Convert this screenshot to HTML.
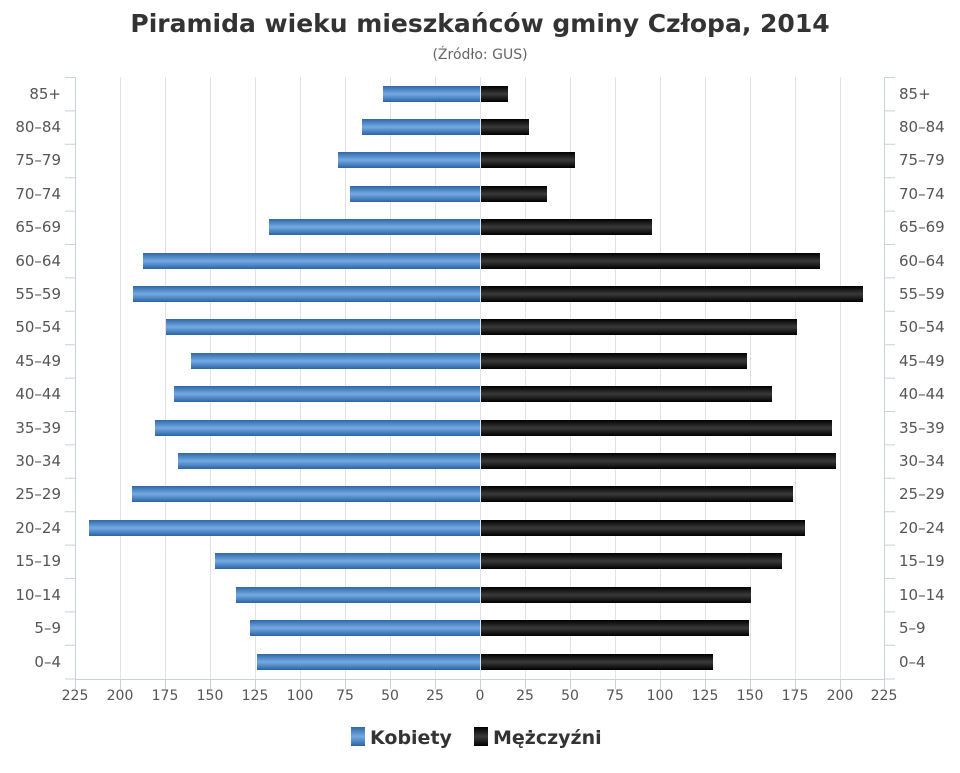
<!DOCTYPE html>
<html><head><meta charset="utf-8"><style>
body{margin:0;background:#fff;width:960px;height:768px;overflow:hidden}
svg text{font-family:"DejaVu Sans","Liberation Sans",sans-serif;fill:#555}
</style></head><body>
<svg width="960" height="768" xmlns="http://www.w3.org/2000/svg">
<defs>
<linearGradient id="b" x1="0" y1="0" x2="0" y2="1"><stop offset="0" stop-color="#2f67a8"/><stop offset="0.5" stop-color="#74aae3"/><stop offset="1" stop-color="#2c64a4"/></linearGradient>
<linearGradient id="k" x1="0" y1="0" x2="0" y2="1"><stop offset="0" stop-color="#000"/><stop offset="0.5" stop-color="#3a3a3a"/><stop offset="1" stop-color="#000"/></linearGradient>
</defs>
<text x="480" y="32" text-anchor="middle" font-size="25" font-weight="bold" style="fill:#333">Piramida wieku mieszkańców gminy Człopa, 2014</text>
<text x="480" y="59" text-anchor="middle" font-size="14" style="fill:#666">(Źródło: GUS)</text>
<g stroke="#e2e2e2" stroke-width="1">
<line x1="120.5" y1="77" x2="120.5" y2="679"/><line x1="165.5" y1="77" x2="165.5" y2="679"/><line x1="210.5" y1="77" x2="210.5" y2="679"/><line x1="255.5" y1="77" x2="255.5" y2="679"/><line x1="300.5" y1="77" x2="300.5" y2="679"/><line x1="345.5" y1="77" x2="345.5" y2="679"/><line x1="390.5" y1="77" x2="390.5" y2="679"/><line x1="435.5" y1="77" x2="435.5" y2="679"/><line x1="480.5" y1="77" x2="480.5" y2="679"/><line x1="525.5" y1="77" x2="525.5" y2="679"/><line x1="570.5" y1="77" x2="570.5" y2="679"/><line x1="615.5" y1="77" x2="615.5" y2="679"/><line x1="660.5" y1="77" x2="660.5" y2="679"/><line x1="705.5" y1="77" x2="705.5" y2="679"/><line x1="750.5" y1="77" x2="750.5" y2="679"/><line x1="795.5" y1="77" x2="795.5" y2="679"/><line x1="840.5" y1="77" x2="840.5" y2="679"/>
</g>
<g stroke="#c8d0dc" stroke-width="1">
<line x1="75.5" y1="77" x2="75.5" y2="679"/><line x1="884.5" y1="77" x2="884.5" y2="679"/>
<line x1="75" y1="679.5" x2="884" y2="679.5"/>
<path d="M65 77.5H75M65 110.9H75M65 144.3H75M65 177.7H75M65 211.1H75M65 244.5H75M65 277.9H75M65 311.3H75M65 344.7H75M65 378.1H75M65 411.5H75M65 444.9H75M65 478.3H75M65 511.7H75M65 545.1H75M65 578.5H75M65 611.9H75M65 645.3H75M65 679H75"/>
<path d="M885 77.5H895M885 110.9H895M885 144.3H895M885 177.7H895M885 211.1H895M885 244.5H895M885 277.9H895M885 311.3H895M885 344.7H895M885 378.1H895M885 411.5H895M885 444.9H895M885 478.3H895M885 511.7H895M885 545.1H895M885 578.5H895M885 611.9H895M885 645.3H895M885 679H895"/>
<path d="M75.5 679V689M120.5 679V689M165.5 679V689M210.5 679V689M255.5 679V689M300.5 679V689M345.5 679V689M390.5 679V689M435.5 679V689M480.5 679V689M525.5 679V689M570.5 679V689M615.5 679V689M660.5 679V689M705.5 679V689M750.5 679V689M795.5 679V689M840.5 679V689M884.5 679V689"/>
</g>
<g fill="url(#b)">
<rect x="383" y="86" width="97" height="16"/><rect x="362" y="119" width="118" height="16"/><rect x="338" y="152" width="142" height="16"/><rect x="350" y="186" width="130" height="16"/><rect x="269" y="219" width="211" height="16"/><rect x="143" y="253" width="337" height="16"/><rect x="133" y="286" width="347" height="16"/><rect x="166" y="319" width="314" height="16"/><rect x="191" y="353" width="289" height="16"/><rect x="174" y="386" width="306" height="16"/><rect x="155" y="420" width="325" height="16"/><rect x="178" y="453" width="302" height="16"/><rect x="132" y="486" width="348" height="16"/><rect x="89" y="520" width="391" height="16"/><rect x="215" y="553" width="265" height="16"/><rect x="236" y="587" width="244" height="16"/><rect x="250" y="620" width="230" height="16"/><rect x="257" y="654" width="223" height="16"/>
</g>
<g fill="url(#k)">
<rect x="481" y="86" width="27" height="16"/><rect x="481" y="119" width="48" height="16"/><rect x="481" y="152" width="94" height="16"/><rect x="481" y="186" width="66" height="16"/><rect x="481" y="219" width="171" height="16"/><rect x="481" y="253" width="339" height="16"/><rect x="481" y="286" width="382" height="16"/><rect x="481" y="319" width="316" height="16"/><rect x="481" y="353" width="266" height="16"/><rect x="481" y="386" width="291" height="16"/><rect x="481" y="420" width="351" height="16"/><rect x="481" y="453" width="355" height="16"/><rect x="481" y="486" width="312" height="16"/><rect x="481" y="520" width="324" height="16"/><rect x="481" y="553" width="301" height="16"/><rect x="481" y="587" width="270" height="16"/><rect x="481" y="620" width="268" height="16"/><rect x="481" y="654" width="232" height="16"/>
</g>
<g font-size="15" text-anchor="end">
<text x="61" y="99">85+</text><text x="61" y="132">80–84</text><text x="61" y="165">75–79</text><text x="61" y="199">70–74</text><text x="61" y="232">65–69</text><text x="61" y="266">60–64</text><text x="61" y="299">55–59</text><text x="61" y="332">50–54</text><text x="61" y="366">45–49</text><text x="61" y="399">40–44</text><text x="61" y="433">35–39</text><text x="61" y="466">30–34</text><text x="61" y="499">25–29</text><text x="61" y="533">20–24</text><text x="61" y="566">15–19</text><text x="61" y="600">10–14</text><text x="61" y="633">5–9</text><text x="61" y="667">0–4</text>
</g>
<g font-size="15" text-anchor="start">
<text x="899" y="99">85+</text><text x="899" y="132">80–84</text><text x="899" y="165">75–79</text><text x="899" y="199">70–74</text><text x="899" y="232">65–69</text><text x="899" y="266">60–64</text><text x="899" y="299">55–59</text><text x="899" y="332">50–54</text><text x="899" y="366">45–49</text><text x="899" y="399">40–44</text><text x="899" y="433">35–39</text><text x="899" y="466">30–34</text><text x="899" y="499">25–29</text><text x="899" y="533">20–24</text><text x="899" y="566">15–19</text><text x="899" y="600">10–14</text><text x="899" y="633">5–9</text><text x="899" y="667">0–4</text>
</g>
<g font-size="14" text-anchor="middle">
<text x="75" y="700">225</text><text x="120" y="700">200</text><text x="165" y="700">175</text><text x="210" y="700">150</text><text x="255" y="700">125</text><text x="300" y="700">100</text><text x="345" y="700">75</text><text x="390" y="700">50</text><text x="435" y="700">25</text><text x="480" y="700">0</text><text x="525" y="700">25</text><text x="570" y="700">50</text><text x="615" y="700">75</text><text x="660" y="700">100</text><text x="705" y="700">125</text><text x="750" y="700">150</text><text x="795" y="700">175</text><text x="840" y="700">200</text><text x="884" y="700">225</text>
</g>
<rect x="351" y="727" width="14" height="19" fill="url(#b)"/>
<text x="370" y="744" font-size="19" font-weight="bold" style="fill:#333">Kobiety</text>
<rect x="474" y="727" width="14" height="19" fill="url(#k)"/>
<text x="493" y="744" font-size="19" font-weight="bold" style="fill:#333">Mężczyźni</text>
</svg>
</body></html>
